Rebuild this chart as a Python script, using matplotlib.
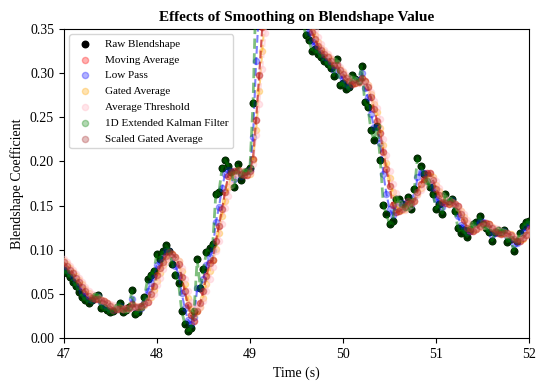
import numpy as np
import matplotlib
matplotlib.use("Agg")
import matplotlib.pyplot as plt

plt.rcParams['font.family'] = ['Liberation Serif', 'DejaVu Serif']

time_start = 47.0
sample_rate = 30.0

raw_blendshape = [
    .077, .074, .069, .064, .059, .052, .047, .043, .040, .043,
    .048, .049, .034, .035, .032, .030, .031, .035, .040, .030,
    .032, .035, .054, .027, .030, .035, .046, .067, .072, .076,
    .095, .089, .099, .105, .099, .084, .072, .062, .031, .016,
    .008, .012, .031, .089, .057, .078, .098, .102, .106, .163,
    .165, .192, .202, .195, .188, .171, .197, .179, .188, .189,
    .193, .266, .400, .440, .460, .470, .470, .460, .450, .440,
    .430, .420, .410, .400, .390, .380, .370, .358, .343, .337,
    .325, .327, .322, .318, .314, .310, .306, .297, .316, .286,
    .289, .282, .284, .298, .293, .291, .308, .267, .262, .235,
    .224, .240, .202, .151, .140, .129, .133, .158, .157, .152,
    .148, .160, .146, .169, .204, .195, .186, .178, .171, .163,
    .146, .152, .141, .163, .155, .158, .144, .125, .119, .122,
    .115, .123, .129, .131, .138, .129, .125, .120, .110, .120,
    .122, .120, .122, .109, .112, .099, .110, .119, .127, .131,
    .132, .130, .128]

moving_average = [
    .0858, .0818, .0776, .0732, .0686, .0636, .0582, .0530, .0482, .0450,
    .0442, .0446, .0428, .0418, .0396, .0360, .0324, .0326, .0336, .0332,
    .0336, .0344, .0382, .0356, .0356, .0362, .0384, .0410, .0500, .0592,
    .0712, .0798, .0862, .0928, .0974, .0952, .0918, .0844, .0696, .0530,
    .0378, .0258, .0196, .0312, .0394, .0534, .0706, .0848, .0882, .1094,
    .1268, .1456, .1656, .1834, .1884, .1896, .1906, .1860, .1846, .1848,
    .1892, .2030, .2472, .2976, .3518, .4072, .4480, .4600, .4620, .4580,
    .4500, .4400, .4300, .4200, .4100, .4000, .3900, .3796, .3682, .3576,
    .3466, .3380, .3308, .3258, .3212, .3182, .3140, .3090, .3086, .3030,
    .2988, .2940, .2914, .2878, .2892, .2896, .2948, .2914, .2842, .2726,
    .2592, .2456, .2326, .2104, .1914, .1724, .1510, .1422, .1434, .1458,
    .1496, .1550, .1526, .1550, .1654, .1748, .1800, .1864, .1868, .1786,
    .1688, .1620, .1546, .1530, .1514, .1538, .1522, .1490, .1402, .1336,
    .1250, .1208, .1216, .1240, .1272, .1300, .1304, .1286, .1244, .1208,
    .1194, .1184, .1188, .1186, .1170, .1124, .1104, .1098, .1134, .1172,
    .1238, .1278, .1296]

low_pass = [
    .0813, .0776, .0733, .0687, .0638, .0579, .0525, .0477, .0439, .0434,
    .0457, .0474, .0407, .0378, .0349, .0325, .0317, .0334, .0367, .0333,
    .0327, .0338, .0439, .0355, .0327, .0339, .0399, .0535, .0627, .0694,
    .0822, .0856, .0923, .0987, .0988, .0914, .0817, .0719, .0514, .0337,
    .0209, .0164, .0237, .0564, .0567, .0674, .0827, .0923, .0992, .1311,
    .1480, .1700, .1860, .1905, .1893, .1801, .1886, .1838, .1859, .1875,
    .1902, .2281, .3140, .3770, .4185, .4443, .4572, .4586, .4543, .4472,
    .4386, .4293, .4197, .4098, .3999, .3900, .3800, .3690, .3560, .3465,
    .3358, .3314, .3267, .3224, .3182, .3141, .3101, .3035, .3098, .2979,
    .2935, .2877, .2859, .2919, .2925, .2917, .2999, .2835, .2727, .2539,
    .2390, .2395, .2208, .1859, .1630, .1460, .1395, .1488, .1529, .1525,
    .1503, .1552, .1506, .1598, .1819, .1885, .1873, .1827, .1769, .1700,
    .1580, .1550, .1480, .1555, .1553, .1567, .1504, .1377, .1284, .1252,
    .1201, .1216, .1253, .1282, .1331, .1311, .1281, .1241, .1171, .1186,
    .1203, .1202, .1211, .1151, .1136, .1063, .1082, .1136, .1203, .1257,
    .1289, .1295, .1288]

gated_average = [
    .0878, .0838, .0797, .0753, .0708, .0658, .0608, .0557, .0508, .0473,
    .0455, .0450, .0428, .0415, .0402, .0380, .0352, .0328, .0338, .0330,
    .0330, .0338, .0377, .0363, .0347, .0355, .0378, .0432, .0462, .0543,
    .0652, .0742, .0830, .0893, .0938, .0952, .0913, .0868, .0755, .0607,
    .0455, .0335, .0267, .0312, .0355, .0458, .0608, .0758, .0883, .1007,
    .1187, .1377, .1550, .1705, .1842, .1855, .1908, .1887, .1863, .1853,
    .1862, .2020, .2358, .2793, .3247, .3715, .4177, .4500, .4583, .4583,
    .4533, .4450, .4350, .4250, .4150, .4050, .3950, .3847, .3735, .3630,
    .3522, .3433, .3353, .3287, .3238, .3193, .3162, .3112, .3102, .3048,
    .3007, .2960, .2923, .2925, .2887, .2895, .2927, .2902, .2865, .2760,
    .2645, .2560, .2383, .2190, .1987, .1810, .1658, .1522, .1447, .1448,
    .1462, .1513, .1535, .1553, .1632, .1703, .1767, .1797, .1838, .1828,
    .1732, .1660, .1585, .1560, .1533, .1525, .1522, .1477, .1440, .1372,
    .1305, .1247, .1222, .1232, .1263, .1275, .1292, .1287, .1255, .1237,
    .1210, .1195, .1190, .1172, .1175, .1140, .1120, .1118, .1127, .1163,
    .1197, .1248, .1278]

average_threshold = [
    .0899, .0859, .0817, .0774, .0730, .0681, .0631, .0583, .0534, .0497,
    .0474, .0460, .0434, .0417, .0401, .0387, .0370, .0351, .0339, .0333,
    .0329, .0333, .0367, .0361, .0354, .0347, .0370, .0420, .0473, .0504,
    .0601, .0686, .0777, .0861, .0907, .0924, .0919, .0871, .0789, .0670,
    .0531, .0407, .0331, .0356, .0349, .0416, .0533, .0667, .0801, .0990,
    .1099, .1291, .1469, .1607, .1730, .1823, .1871, .1891, .1886, .1867,
    .1864, .1976, .2303, .2650, .3051, .3454, .3856, .4237, .4500, .4557,
    .4543, .4486, .4400, .4300, .4200, .4100, .4000, .3897, .3787, .3683,
    .3576, .3486, .3403, .3329, .3266, .3219, .3174, .3134, .3119, .3067,
    .3026, .2980, .2943, .2931, .2926, .2890, .2921, .2890, .2861, .2791,
    .2686, .2610, .2483, .2259, .2077, .1887, .1741, .1647, .1529, .1457,
    .1453, .1481, .1506, .1557, .1623, .1677, .1726, .1769, .1784, .1809,
    .1776, .1701, .1624, .1591, .1559, .1540, .1513, .1483, .1436, .1409,
    .1340, .1294, .1253, .1234, .1253, .1267, .1271, .1279, .1260, .1247,
    .1234, .1209, .1199, .1176, .1164, .1149, .1134, .1130, .1140, .1153,
    .1186, .1211, .1253]

kalman_filter = [
    .077, .074, .069, .064, .059, .052, .047, .043, .040, .043,
    .048, .049, .034, .035, .032, .030, .031, .035, .040, .030,
    .032, .035, .054, .027, .030, .035, .046, .067, .072, .076,
    .095, .089, .099, .105, .099, .084, .072, .062, .031, .016,
    .008, .012, .031, .089, .057, .078, .098, .102, .106, .163,
    .165, .192, .202, .195, .188, .171, .197, .179, .188, .189,
    .193, .266, .400, .440, .460, .470, .470, .460, .450, .440,
    .430, .420, .410, .400, .390, .380, .370, .358, .343, .337,
    .325, .327, .322, .318, .314, .310, .306, .297, .316, .286,
    .289, .282, .284, .298, .293, .291, .308, .267, .262, .235,
    .224, .240, .202, .151, .140, .129, .133, .158, .157, .152,
    .148, .160, .146, .169, .204, .195, .186, .178, .171, .163,
    .146, .152, .141, .163, .155, .158, .144, .125, .119, .122,
    .115, .123, .129, .131, .138, .129, .125, .120, .110, .120,
    .122, .120, .122, .109, .112, .099, .110, .119, .127, .131,
    .132, .130, .128]

scaled_gated_average = [
    .0858, .0818, .0776, .0732, .0686, .0636, .0582, .0530, .0482, .0450,
    .0442, .0446, .0428, .0418, .0396, .0360, .0324, .0326, .0336, .0332,
    .0336, .0344, .0382, .0356, .0356, .0362, .0384, .0410, .0500, .0592,
    .0712, .0798, .0862, .0928, .0974, .0952, .0918, .0844, .0696, .0530,
    .0378, .0258, .0196, .0312, .0394, .0534, .0706, .0848, .0882, .1094,
    .1268, .1456, .1656, .1834, .1884, .1896, .1906, .1860, .1846, .1848,
    .1892, .2030, .2472, .2976, .3518, .4072, .4480, .4600, .4620, .4580,
    .4500, .4400, .4300, .4200, .4100, .4000, .3900, .3796, .3682, .3576,
    .3466, .3380, .3308, .3258, .3212, .3182, .3140, .3090, .3086, .3030,
    .2988, .2940, .2914, .2878, .2892, .2896, .2948, .2914, .2842, .2726,
    .2592, .2456, .2326, .2104, .1914, .1724, .1510, .1422, .1434, .1458,
    .1496, .1550, .1526, .1550, .1654, .1748, .1800, .1864, .1868, .1786,
    .1688, .1620, .1546, .1530, .1514, .1538, .1522, .1490, .1402, .1336,
    .1250, .1208, .1216, .1240, .1272, .1300, .1304, .1286, .1244, .1208,
    .1194, .1184, .1188, .1186, .1170, .1124, .1104, .1098, .1134, .1172,
    .1238, .1278, .1296]

x_ticks = [47, 48, 49, 50, 51, 52]
y_ticks = [0.00, 0.05, 0.10, 0.15, 0.20, 0.25, 0.30, 0.35]

t = time_start + np.arange(len(raw_blendshape)) / sample_rate

fig = plt.figure(figsize=(5.45, 3.9), dpi=100)
ax = fig.add_axes([0.117, 0.133, 0.854, 0.793])

ax.scatter(t, raw_blendshape, color='black', s=22, label='Raw Blendshape', zorder=2)

series = [
    (moving_average, 'red', 'Moving Average', 0.3),
    (low_pass, 'blue', 'Low Pass', 0.3),
    (gated_average, 'orange', 'Gated Average', 0.3),
    (average_threshold, 'pink', 'Average Threshold', 0.4),
    (kalman_filter, 'green', '1D Extended Kalman Filter', 0.3),
    (scaled_gated_average, 'brown', 'Scaled Gated Average', 0.3),
]
for vals, col, lab, a in series:
    lw = 2.0 if col == 'green' else 1.5
    ax.plot(t, vals, '--', color=col, alpha=0.5, lw=lw, zorder=3)
    ax.scatter(t, vals, color=col, alpha=a, s=20, label=lab, zorder=3)

ax.set_xlim(47, 52)
ax.set_ylim(0, 0.35)
ax.set_xticks(x_ticks)
ax.set_xticklabels([str(v) for v in x_ticks])
ax.set_yticks(y_ticks)
ax.set_yticklabels([f"{v:.2f}" for v in y_ticks])
ax.tick_params(labelsize=10)
ax.set_xlabel('Time (s)', fontsize=10)
ax.set_ylabel('Blendshape Coefficient', fontsize=10)
ax.set_title('Effects of Smoothing on Blendshape Value', fontsize=11, fontweight='bold')
ax.legend(loc='upper left', fontsize=8, labelspacing=0.55)

fig.savefig('out.png', dpi=100)
